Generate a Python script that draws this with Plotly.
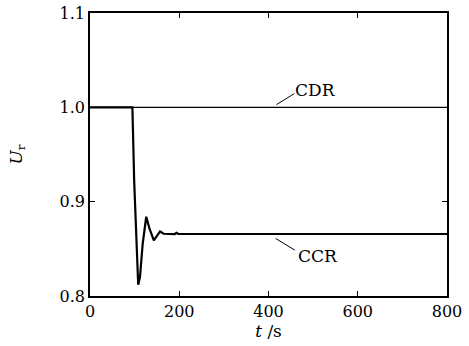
import plotly.graph_objects as go

# Data
t_cdr = [0, 800]
u_cdr = [1.0, 1.0]

t_ccr = [0, 95, 99, 104, 108, 112, 118, 126, 133, 143, 150, 157, 165, 175, 190, 194, 198, 210, 400, 600, 800]
u_ccr = [1.0, 1.0, 0.922, 0.86, 0.812, 0.82, 0.855, 0.884, 0.872, 0.859, 0.864, 0.8684, 0.866, 0.8657, 0.8657, 0.867, 0.8657, 0.8657, 0.8657, 0.8657, 0.8657]

x_ticks = [0, 200, 400, 600, 800]
y_ticks = [0.8, 0.9, 1.0, 1.1]
y_tick_text = ["0.8", "0.9", "1.0", "1.1"]

font_family = "DejaVu Serif, serif"

fig = go.Figure()
fig.add_trace(go.Scatter(x=t_cdr, y=u_cdr, mode="lines",
                         line=dict(color="black", width=1.2), showlegend=False))
fig.add_trace(go.Scatter(x=t_ccr, y=u_ccr, mode="lines",
                         line=dict(color="black", width=2.2), showlegend=False))

# leader lines + labels
fig.add_shape(type="line", x0=418, y0=1.0029, x1=458, y1=1.0146,
              line=dict(color="black", width=1))
fig.add_annotation(x=505, y=1.0184, text="CDR", showarrow=False,
                   font=dict(family=font_family, size=17, color="black"))
fig.add_shape(type="line", x0=416, y0=0.861, x1=459, y1=0.8486,
              line=dict(color="black", width=1))
fig.add_annotation(x=511, y=0.8429, text="CCR", showarrow=False,
                   font=dict(family=font_family, size=17, color="black"))

axis_common = dict(showline=True, linecolor="black", linewidth=1.5, mirror="ticks",
                   ticks="inside", ticklen=5, tickwidth=1.2, tickcolor="black",
                   showgrid=False, zeroline=False, automargin=False,
                   tickfont=dict(family=font_family, size=16, color="black"))

fig.update_xaxes(range=[0, 800], tickvals=x_ticks,
                 title=dict(text="<i>t</i> /s", font=dict(family=font_family, size=17, color="black"),
                            standoff=0),
                 **axis_common)
fig.update_yaxes(range=[0.8, 1.1], tickvals=y_ticks, ticktext=y_tick_text,
                 title=dict(text="<i>U</i><sub>r</sub>", font=dict(family=font_family, size=17, color="black"),
                            standoff=33),
                 **axis_common)

fig.update_layout(width=469, height=346, margin=dict(l=90, r=22, t=13, b=50, autoexpand=False),
                  plot_bgcolor="white", paper_bgcolor="white")

fig.write_html("out.html")
